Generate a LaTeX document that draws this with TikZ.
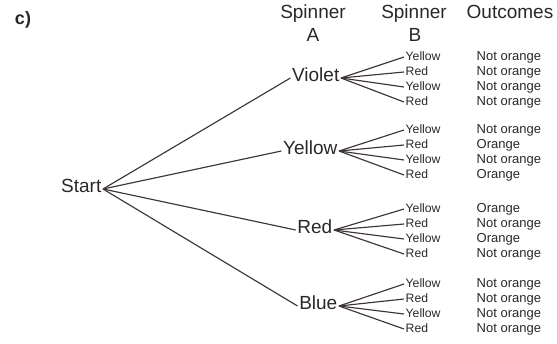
\documentclass[tikz,border=0pt]{standalone}
\usepackage{fontspec}
\setmainfont{Liberation Sans}
\definecolor{ink}{HTML}{2B2727}
\definecolor{branch}{HTML}{3E3535}
\tikzset{
  lbl/.style={inner sep=1.5pt, text height=0.72em, text depth=0pt, text=ink},
  big/.style={lbl, font=\fontsize{19}{22}\selectfont},
  small/.style={lbl, font=\fontsize{12.2}{15}\selectfont, anchor=west},
  outc/.style={lbl, font=\fontsize{13}{15}\selectfont, anchor=west},
  edge/.style={draw=branch, line width=1.15pt}
}
\begin{document}
\begin{tikzpicture}[x=1pt, y=-1pt]
\useasboundingbox (0,0) rectangle (557,343);
% panel label and column headers
\node[lbl, font=\bfseries\fontsize{18}{20}\selectfont] (panel) at (23,21) {c)};
\node[big, anchor=center] (hA1) at (313,15) {Spinner};
\node[big, anchor=center] (hA2) at (313,38) {A};
\node[big, anchor=center] (hB1) at (414,15) {Spinner};
\node[big, anchor=center] (hB2) at (415,38) {B};
\node[big, anchor=center] (hO) at (510,15) {Outcomes};
% root
\node[big, anchor=east] (start) at (103,189) {Start};
% spinner A results
\node[big, anchor=east] (v) at (341,78) {Violet};
\node[big, anchor=east] (y) at (339,151) {Yellow};
\node[big, anchor=east] (r) at (334,230) {Red};
\node[big, anchor=east] (b) at (339,306) {Blue};
\foreach \n in {v,y,r,b} \draw[edge] (start.east) -- (\n.west);
% spinner B results and outcomes
\foreach \p/\y/\oa/\ob/\oc/\od in {v/57/Not orange/Not orange/Not orange/Not orange,
                                  y/130/Not orange/Orange/Not orange/Orange,
                                  r/209/Orange/Not orange/Orange/Not orange,
                                  b/284/Not orange/Not orange/Not orange/Not orange}{
  \node[small] (\p1) at (404,\y) {Yellow};
  \node[small] (\p2) at (404,\y+15) {Red};
  \node[small] (\p3) at (404,\y+30) {Yellow};
  \node[small] (\p4) at (404,\y+45) {Red};
  \node[outc] (\p o1) at (475,\y) {\oa};
  \node[outc] (\p o2) at (475,\y+15) {\ob};
  \node[outc] (\p o3) at (475,\y+30) {\oc};
  \node[outc] (\p o4) at (475,\y+45) {\od};
  \foreach \k in {1,2,3,4} \draw[edge] (\p.east) -- (\p\k.west);
}
\end{tikzpicture}
\end{document}
